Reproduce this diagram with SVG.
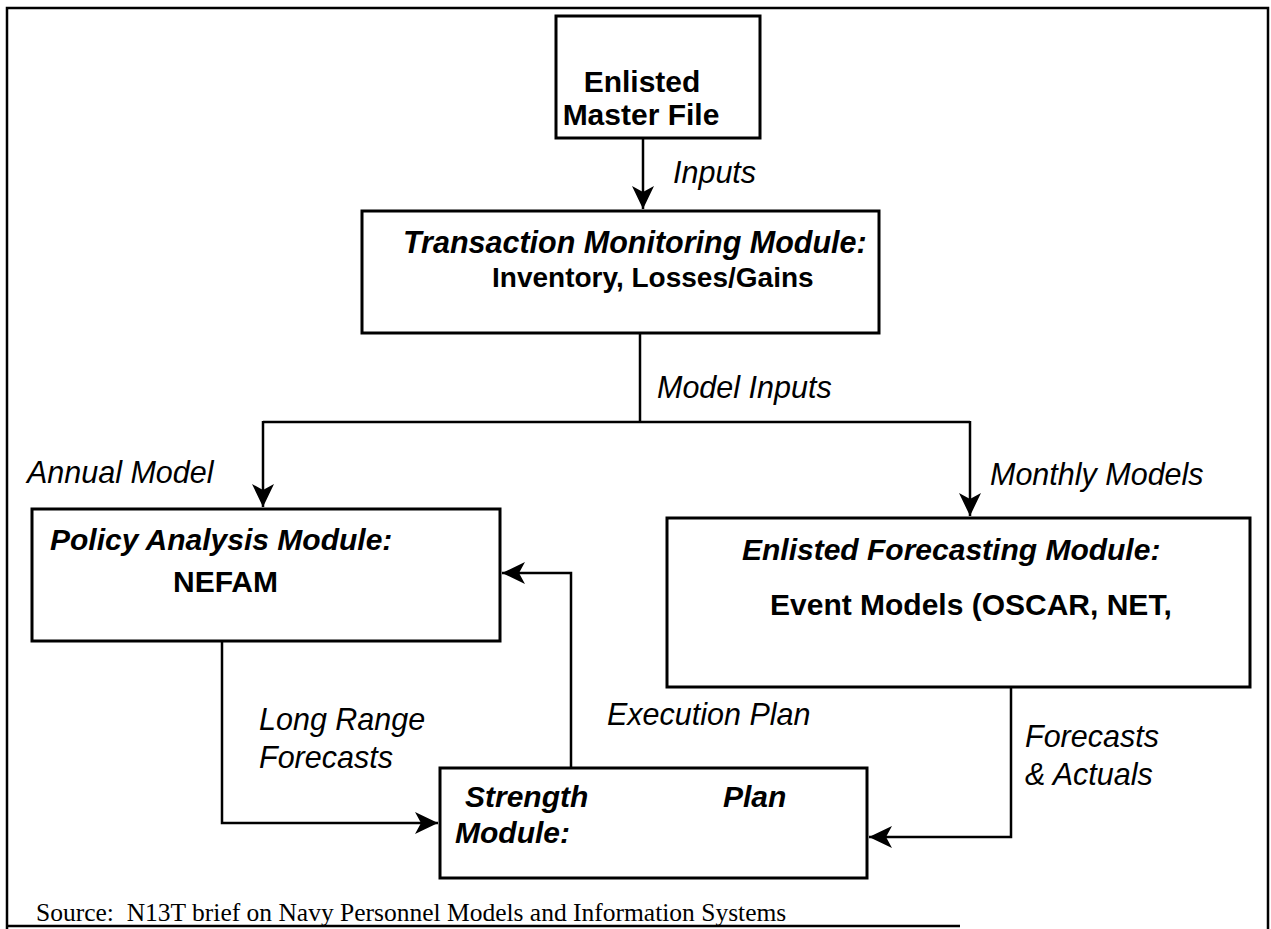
<svg xmlns="http://www.w3.org/2000/svg" width="1271" height="929" viewBox="0 0 1271 929">
<style>
.box{fill:#fff;stroke:#000;stroke-width:3}
.ln{fill:none;stroke:#000;stroke-width:2.5}
.b{font-family:"Liberation Sans",Arial,sans-serif;font-weight:bold;font-size:30px;fill:#000}
.bi{font-family:"Liberation Sans",Arial,sans-serif;font-weight:bold;font-style:italic;font-size:30px;fill:#000}
.i{font-family:"Liberation Sans",Arial,sans-serif;font-style:italic;font-size:30.5px;fill:#000}
.src{font-family:"Liberation Serif","Times New Roman",serif;font-size:25.5px;fill:#000}
</style>
<defs>
<marker id="ah" markerUnits="userSpaceOnUse" markerWidth="26" markerHeight="24" viewBox="-24 -12 26 24" refX="0" refY="0" orient="auto">
<path d="M0,0 L-23,-11 L-17,0 L-23,11 Z" fill="#000"/>
</marker>
</defs>
<rect width="1271" height="929" fill="#fff"/>
<g id="frame">
<path class="ln" d="M7,929 V8 H1268 V929" stroke-width="2"/>
<line class="ln" x1="7" y1="926" x2="960" y2="926" stroke-width="2"/>
</g>
<g id="connectors">
<line class="ln" x1="643" y1="138" x2="643" y2="209" marker-end="url(#ah)"/>
<line class="ln" x1="640" y1="333" x2="640" y2="422"/>
<line class="ln" x1="263" y1="422" x2="970" y2="422"/>
<line class="ln" x1="263" y1="421" x2="263" y2="507" marker-end="url(#ah)"/>
<line class="ln" x1="970" y1="421" x2="970" y2="516" marker-end="url(#ah)"/>
<polyline class="ln" points="222,641 222,823 438,823" marker-end="url(#ah)"/>
<polyline class="ln" points="571,768 571,573 502,573" marker-end="url(#ah)"/>
<polyline class="ln" points="1011,687 1011,837 869,837" marker-end="url(#ah)"/>
</g>
<g id="enlisted-master-file">
<rect class="box" x="556" y="16" width="204" height="122"/>
<text class="b" x="642" y="92" text-anchor="middle">Enlisted</text>
<text class="b" x="641" y="125" text-anchor="middle">Master File</text>
</g>
<g id="label-inputs"><text class="i" x="673" y="183">Inputs</text></g>
<g id="transaction-monitoring-module">
<rect class="box" x="362" y="211" width="517" height="122"/>
<text class="bi" x="403" y="253" style="font-size:30.5px">Transaction Monitoring Module:</text>
<text class="b" x="492" y="287" style="font-size:28px">Inventory, Losses/Gains</text>
</g>
<g id="label-model-inputs"><text class="i" x="657" y="398">Model Inputs</text></g>
<g id="label-annual-model"><text class="i" x="27" y="483">Annual Model</text></g>
<g id="label-monthly-models"><text class="i" x="990" y="485">Monthly Models</text></g>
<g id="policy-analysis-module">
<rect class="box" x="32" y="509" width="468" height="132"/>
<text class="bi" x="50" y="550">Policy Analysis Module:</text>
<text class="b" x="173" y="592">NEFAM</text>
</g>
<g id="enlisted-forecasting-module">
<rect class="box" x="667" y="518" width="583" height="169"/>
<text class="bi" x="742" y="560">Enlisted Forecasting Module:</text>
<text class="b" x="770" y="615">Event Models (OSCAR, NET,</text>
</g>
<g id="label-long-range"><text class="i" x="259" y="730">Long Range</text><text class="i" x="259" y="768">Forecasts</text></g>
<g id="label-execution-plan"><text class="i" x="607" y="725">Execution Plan</text></g>
<g id="label-forecasts-actuals"><text class="i" x="1025" y="747">Forecasts</text><text class="i" x="1025" y="785">&amp; Actuals</text></g>
<g id="strength-plan-module">
<rect class="box" x="440" y="768" width="427" height="110"/>
<text class="bi" x="465" y="807">Strength</text>
<text class="bi" x="723" y="807">Plan</text>
<text class="bi" x="455" y="843">Module:</text>
</g>
<g id="source"><text class="src" x="36" y="921">Source:&#160; N13T brief on Navy Personnel Models and Information Systems</text></g>
</svg>
